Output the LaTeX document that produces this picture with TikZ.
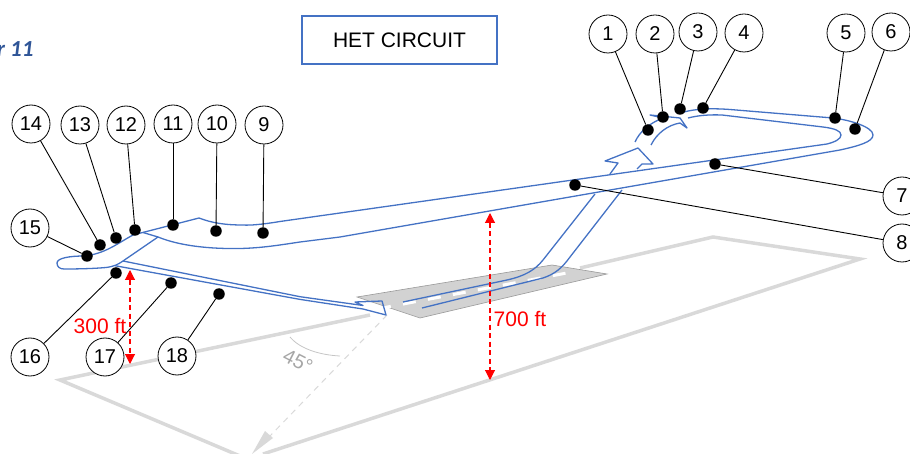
\documentclass[tikz,border=0pt]{standalone}
\usepackage{fontspec}
\setmainfont{Liberation Sans}
\newfontfamily\capfont{Carlito}
\usetikzlibrary{arrows.meta}
\definecolor{pathblue}{HTML}{4472C4}
\definecolor{titleblue}{HTML}{2F5597}
\definecolor{groundgrey}{HTML}{D9D9D9}
\definecolor{stripgrey}{HTML}{D2D2D2}
\tikzset{
  num/.style={circle,draw=black,fill=white,line width=0.8pt,minimum size=38pt,inner sep=0pt,font=\fontsize{20}{20}\selectfont},
  spot/.style={circle,fill=black,minimum size=11.5pt,inner sep=0pt},
  lead/.style={black,line width=0.9pt},
  track/.style={pathblue,line width=1.3pt,line join=round},
  ground/.style={groundgrey,line width=3.5pt,line join=miter},
  height/.style={red,line width=1.1pt,dash pattern=on 5pt off 3.5pt,{Triangle[length=10pt,width=10pt]}-{Triangle[length=10pt,width=10pt]}},
  redtext/.style={red,font=\fontsize{21}{21}\selectfont}
}
\begin{document}
\begin{tikzpicture}[x=1pt,y=-1pt]
\useasboundingbox (0,0) rectangle (910,454);

% ground track
\draw[ground] (370,315) -- (60,380) -- (240,456);
\draw[ground] (580,268) -- (713,237) -- (860,259) -- (263,454);

% runway
\fill[stripgrey,draw=gray!80,line width=0.6pt] (357,297) -- (552,265) -- (607,274) -- (420,318) -- cycle;
\draw[white,line width=3pt,dash pattern=on 13pt off 12.4pt] (378,308.8) -- (572,272);

% crosswind to base line
\draw[groundgrey,line width=1pt,dash pattern=on 6pt off 5pt] (387,315) -- (270,436);
\fill[groundgrey] (273,438) -- (265,431) -- (252,454) -- cycle;
\draw[gray!45,line width=0.8pt] (290,337) .. controls (300,349) and (320,355) .. (340,356);
\node[gray!70,rotate=-27,font=\fontsize{20}{20}\selectfont] (angle) at (298,361) {45°};

% takeoff
\draw[track] (403,302) -- (507,280) .. controls (525,276) and (535,270) .. (543,260) -- (595,194);
\draw[track] (422,308) -- (543,278) .. controls (555,274) and (562,268) .. (570,257) -- (622,190);
\draw[track] (610,174) -- (618,163) -- (605,161) -- (638,148) -- (653,164) -- (642,164) -- (637,169);

% turn onto crosswind
\draw[track] (635,142) .. controls (640,131) and (650,123) .. (663,118) -- (650,115) -- (680,118) -- (687,128) -- (680,123) .. controls (668,125) and (657,133) .. (651,145);

% circuit
\draw[track] (688,118) .. controls (698,115.5) and (708,114.5) .. (722,115) -- (823,127) .. controls (835,128.5) and (841,131) .. (841,135) .. controls (841,139) and (835,142) .. (827,144) -- (340,213) -- (280,221.5) .. controls (262,224.5) and (250,225.5) .. (243,225) .. controls (225,225) and (212,223) .. (199,218) -- (133,235) .. controls (118,243) and (105,254) .. (84,256) .. controls (70,256) and (57,258) .. (57,263) .. controls (57,267) and (60,269) .. (64,269) .. controls (80,269) and (95,268.5) .. (106,267.5) .. controls (114,266.5) and (118,264.5) .. (123,261) -- (158,237) .. controls (180,246) and (210,249) .. (240,248.5) .. controls (262,248) and (280,245) .. (300,242) -- (340,237) -- (840,150) .. controls (858,146) and (873,142) .. (873,135) .. controls (873,127) and (850,120) .. (833,118) -- (730,109.5) .. controls (710,108) and (695,109) .. (684,112);
\draw[track] (143,232.5) -- (158,237);

% final
\draw[track] (123,261) -- (300,296.7) -- (363,305.5) -- (355,302) -- (382,301) -- (386,315) -- (363,309) -- (300,299.4) -- (115,265.7);

% heights
\draw[height] (490,213) -- (490,380);
\draw[height] (130,270) -- (130,364);
\node[redtext] (h700) at (520,319) {700 ft};
\node[redtext] (h300) at (100,326) {300 ft};

% labels
\node[draw=pathblue,line width=1.4pt,minimum width=195pt,minimum height=48pt,inner sep=0pt,font=\fontsize{21}{21}\selectfont] (title) at (399.5,40) {HET CIRCUIT};
\node[anchor=east,titleblue,font=\capfont\bfseries\itshape\fontsize{23}{23}\selectfont] (part) at (37,49) {r 11};

\node[num] (n1) at (608,34) {1};
\node[num] (n2) at (655,34) {2};
\node[num] (n3) at (698,32) {3};
\node[num] (n4) at (744,33) {4};
\node[num] (n5) at (846,33) {5};
\node[num] (n6) at (891,32) {6};
\node[num] (n7) at (902,196) {7};
\node[num] (n8) at (902,243) {8};
\node[num] (n9) at (264,125) {9};
\node[num] (n10) at (217,124) {10};
\node[num] (n11) at (173,124) {11};
\node[num] (n12) at (126,125) {12};
\node[num] (n13) at (80,125) {13};
\node[num] (n14) at (31,124) {14};
\node[num] (n15) at (30,228) {15};
\node[num] (n16) at (30,357) {16};
\node[num] (n17) at (105,357) {17};
\node[num] (n18) at (177,356) {18};

\node[spot] (s1) at (648,130) {};
\node[spot] (s2) at (663,117) {};
\node[spot] (s3) at (680,109) {};
\node[spot] (s4) at (703,108) {};
\node[spot] (s5) at (835,118) {};
\node[spot] (s6) at (855,129) {};
\node[spot] (s7) at (715,164) {};
\node[spot] (s8) at (575,185) {};
\node[spot] (s9) at (263,233) {};
\node[spot] (s10) at (216,231) {};
\node[spot] (s11) at (173,225) {};
\node[spot] (s12) at (135,230) {};
\node[spot] (s13) at (116,238) {};
\node[spot] (s14) at (100,245) {};
\node[spot] (s15) at (87,256) {};
\node[spot] (s16) at (116,273) {};
\node[spot] (s17) at (171,283) {};
\node[spot] (s18) at (219,294) {};

\draw[lead] (n1) -- (s1);
\draw[lead] (n2) -- (s2);
\draw[lead] (n3) -- (s3);
\draw[lead] (n4) -- (s4);
\draw[lead] (n5) -- (s5);
\draw[lead] (n6) -- (s6);
\draw[lead] (n7) -- (s7);
\draw[lead] (n8) -- (s8);
\draw[lead] (n9) -- (s9);
\draw[lead] (n10) -- (s10);
\draw[lead] (n11) -- (s11);
\draw[lead] (n12) -- (s12);
\draw[lead] (n13) -- (s13);
\draw[lead] (n14) -- (s14);
\draw[lead] (n15) -- (s15);
\draw[lead] (n16) -- (s16);
\draw[lead] (n17) -- (s17);
\draw[lead] (n18) -- (s18);

\end{tikzpicture}
\end{document}
